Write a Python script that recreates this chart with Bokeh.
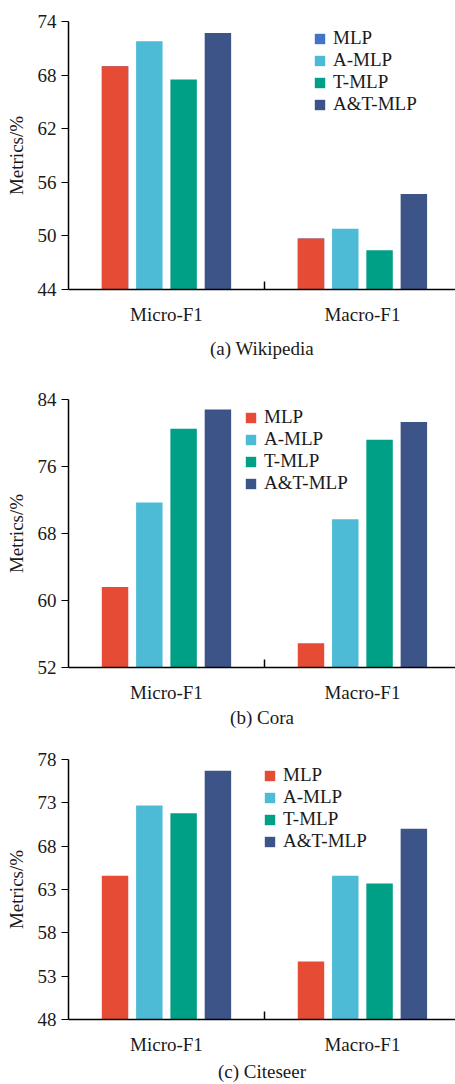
from bokeh.plotting import figure
from bokeh.models import Range1d, FixedTicker, ColumnDataSource, Legend, LegendItem
from bokeh.transform import dodge
from bokeh.layouts import column
from bokeh.embed import file_html
from bokeh.resources import INLINE

# ---------------- data ----------------
categories = ["Micro-F1", "Macro-F1"]
series = ["MLP", "A-MLP", "T-MLP", "A&T-MLP"]

wiki_mlp = [69.0, 49.7]
wiki_amlp = [71.8, 50.8]
wiki_tmlp = [67.5, 48.4]
wiki_atmlp = [72.7, 54.7]

cora_mlp = [61.6, 54.9]
cora_amlp = [71.7, 69.7]
cora_tmlp = [80.5, 79.2]
cora_atmlp = [82.8, 81.3]

cite_mlp = [64.6, 54.7]
cite_amlp = [72.7, 64.6]
cite_tmlp = [71.8, 63.7]
cite_atmlp = [76.7, 70.0]

wiki_ticks = [44, 50, 56, 62, 68, 74]
cora_ticks = [52, 60, 68, 76, 84]
cite_ticks = [48, 53, 58, 63, 68, 73, 78]

captions = ["(a) Wikipedia", "(b) Cora", "(c) Citeseer"]
y_label = "Metrics/%"

# ---------------- style ----------------
colors = ["#E64B35", "#4DBBD5", "#00A087", "#3C5488"]
wiki_legend_colors = ["#4472C4", "#4DBBD5", "#00A087", "#3C5488"]
FONT = "Liberation Serif"
TXT = "#1A1A1A"
W = 455
FRAME_H = 268
LEFT = 68
BAR_W = 0.135
PITCH = 0.175


def make_panel(vals, ticks, caption, top, bottom, leg_xy, cap_standoff, leg_colors):
    pos = [i + 0.5 for i in range(len(categories))]
    data = {"pos": pos}
    for k, v in enumerate(vals):
        data["s%d" % k] = v
    src = ColumnDataSource(data)

    p = figure(width=W, height=top + FRAME_H + bottom, title=None,
               x_range=Range1d(0, 1.975), y_range=Range1d(ticks[0], ticks[-1]),
               toolbar_location=None, output_backend="svg",
               min_border_left=LEFT, min_border_right=0,
               min_border_top=top, min_border_bottom=bottom)
    p.outline_line_color = None
    p.xgrid.visible = False
    p.ygrid.visible = False
    p.background_fill_color = "white"

    n = len(series)
    renderers = []
    legend_renderers = []
    for k in range(n):
        off = (k - (n - 1) / 2) * PITCH
        lr = None
        if leg_colors[k] != colors[k]:
            # hidden underneath the real bar; only its legend swatch is seen
            lr = p.vbar(x=dodge("pos", off), top="s%d" % k, width=BAR_W, source=src,
                        fill_color=leg_colors[k], line_color=None)
        r = p.vbar(x=dodge("pos", off), top="s%d" % k, width=BAR_W, source=src,
                   fill_color=colors[k], line_color=None)
        renderers.append(r)
        legend_renderers.append(lr if lr is not None else r)

    items = [LegendItem(label=series[k], renderers=[legend_renderers[k]]) for k in range(n)]
    leg = Legend(items=items, location=leg_xy, glyph_width=13, glyph_height=13,
                 label_height=22, spacing=0, padding=0, margin=0,
                 border_line_color=None, background_fill_alpha=0,
                 label_text_font=FONT, label_text_font_size="19px",
                 label_text_color=TXT, label_standoff=7)
    p.add_layout(leg)

    # x axis
    xa = p.xaxis[0]
    xa.ticker = FixedTicker(ticks=pos, minor_ticks=[pos[i] + 0.5 for i in range(len(pos) - 1)])
    xa.major_label_overrides = {pos[i]: categories[i] for i in range(len(pos))}
    xa.major_tick_line_color = None
    xa.major_tick_in = 0
    xa.major_tick_out = 0
    xa.minor_tick_in = 8
    xa.minor_tick_out = 0
    xa.minor_tick_line_color = "black"
    xa.minor_tick_line_width = 1.5
    xa.axis_line_color = "black"
    xa.axis_line_width = 1.5
    xa.major_label_text_font = FONT
    xa.major_label_text_font_size = "19px"
    xa.major_label_text_color = TXT
    xa.major_label_standoff = 14
    xa.axis_label = caption
    xa.axis_label_text_font = FONT
    xa.axis_label_text_font_size = "19px"
    xa.axis_label_text_font_style = "normal"
    xa.axis_label_text_color = TXT
    xa.axis_label_standoff = cap_standoff

    # y axis
    ya = p.yaxis[0]
    ya.ticker = FixedTicker(ticks=ticks)
    ya.major_tick_in = 0
    ya.major_tick_out = 7
    ya.major_tick_line_width = 1.2
    ya.minor_tick_line_color = None
    ya.axis_line_color = "black"
    ya.axis_line_width = 1.5
    ya.major_label_text_font = FONT
    ya.major_label_text_font_size = "19px"
    ya.major_label_text_color = TXT
    ya.major_label_standoff = 5
    ya.axis_label = y_label
    ya.axis_label_text_font = FONT
    ya.axis_label_text_font_size = "19px"
    ya.axis_label_text_font_style = "normal"
    ya.axis_label_text_color = TXT
    ya.axis_label_standoff = 8
    return p


pa = make_panel([wiki_mlp, wiki_amlp, wiki_tmlp, wiki_atmlp], wiki_ticks, captions[0],
                21, 86, (245, 174), 10, wiki_legend_colors)
pb = make_panel([cora_mlp, cora_amlp, cora_tmlp, cora_atmlp], cora_ticks, captions[1],
                24, 73, (176, 173), 1, colors)
pc = make_panel([cite_mlp, cite_amlp, cite_tmlp, cite_atmlp], cite_ticks, captions[2],
                19, 57, (195, 167), 3, colors)

layout = column(pa, pb, pc, spacing=0)
open("out.html", "w").write(file_html(layout, INLINE))
